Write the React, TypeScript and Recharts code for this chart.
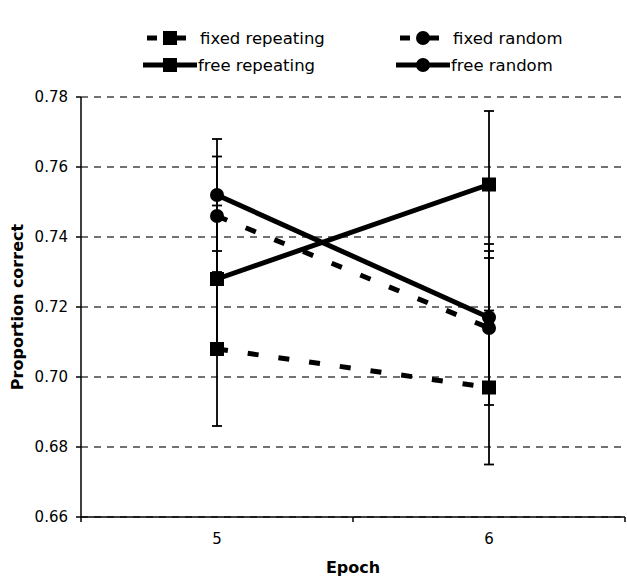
import {
  CartesianGrid,
  ErrorBar,
  Label,
  Line,
  LineChart,
  XAxis,
  YAxis,
} from "recharts";

const epochs = [5, 6];
const fixedRepeating = [0.708, 0.697];
const fixedRepeatingErr = [0.022, 0.022];
const freeRepeating = [0.728, 0.755];
const freeRepeatingErr = [0.021, 0.021];
const fixedRandom = [0.746, 0.714];
const fixedRandomErr = [0.017, 0.022];
const freeRandom = [0.752, 0.717];
const freeRandomErr = [0.016, 0.021];

const yTicks = [0.66, 0.68, 0.7, 0.72, 0.74, 0.76, 0.78];
const xTicks = [4.5, 5, 5.5, 6, 6.5];

const data = epochs.map((epoch, i) => ({
  epoch,
  fixedRepeating: fixedRepeating[i],
  fixedRepeatingErr: fixedRepeatingErr[i],
  freeRepeating: freeRepeating[i],
  freeRepeatingErr: freeRepeatingErr[i],
  fixedRandom: fixedRandom[i],
  fixedRandomErr: fixedRandomErr[i],
  freeRandom: freeRandom[i],
  freeRandomErr: freeRandomErr[i],
}));

const FONT = "'DejaVu Sans', Verdana, sans-serif";
const DASH = "11 20";

const SquareDot = (props: any) => {
  const { cx, cy } = props;
  if (cx == null || cy == null) return null;
  return <rect x={cx - 7} y={cy - 7} width={14} height={14} fill="#000" />;
};

const CircleDot = (props: any) => {
  const { cx, cy } = props;
  if (cx == null || cy == null) return null;
  return <circle cx={cx} cy={cy} r={7} fill="#000" />;
};

// integer ticks get a label, half ticks get the category boundary mark
const XTick = (props: any) => {
  const { x, y, payload } = props;
  const v = payload.value;
  if (Number.isInteger(v)) {
    return (
      <text x={x} y={y + 27} textAnchor="middle" fontSize={15} fontFamily={FONT} fill="#000">
        {v}
      </text>
    );
  }
  return <line x1={x} y1={y} x2={x} y2={y + 5} stroke="#000" strokeWidth={1.5} />;
};

const legendItems = [
  { name: "fixed repeating", dashed: true, shape: "square", x: 143, y: 38 },
  { name: "free repeating", dashed: false, shape: "square", x: 143, y: 65 },
  { name: "fixed random", dashed: true, shape: "circle", x: 396, y: 38 },
  { name: "free random", dashed: false, shape: "circle", x: 396, y: 65 },
];

// legend drawn as an overlay so it doesn't eat into the plot area
const ChartLegend = () => (
  <svg
    width={627}
    height={90}
    style={{ position: "absolute", left: 0, top: 0, display: "block" }}
  >
    {legendItems.map((it) => {
      const mid = it.x + 27;
      return (
        <g key={it.name}>
          {it.dashed ? (
            <>
              <line x1={it.x + 4} y1={it.y} x2={it.x + 14} y2={it.y} stroke="#000" strokeWidth={5} />
              <line x1={mid} y1={it.y} x2={mid + 16} y2={it.y} stroke="#000" strokeWidth={5} />
            </>
          ) : (
            <line x1={it.x} y1={it.y} x2={it.x + 54} y2={it.y} stroke="#000" strokeWidth={5} />
          )}
          {it.shape === "square" ? (
            <rect x={mid - 7} y={it.y - 7} width={14} height={14} fill="#000" />
          ) : (
            <circle cx={mid} cy={it.y} r={7} fill="#000" />
          )}
          <text
            x={it.dashed ? it.x + 57 : it.x + 55}
            y={it.y}
            dominantBaseline="central"
            fontSize={16.5}
            fontFamily={FONT}
            fill="#000"
          >
            {it.name}
          </text>
        </g>
      );
    })}
  </svg>
);

export default function App() {
  return (
    <div style={{ position: "absolute", left: 0, top: 0, width: 627, height: 578, background: "#fff" }}>
      <LineChart
        width={627}
        height={578}
        data={data}
        margin={{ top: 97, right: 2, left: 0, bottom: 0 }}
      >
        <CartesianGrid
          horizontal
          vertical={false}
          stroke="#444"
          strokeWidth={1.3}
          strokeDasharray="7 6"
        />
        <XAxis
          dataKey="epoch"
          type="number"
          domain={[4.5, 6.5]}
          ticks={xTicks}
          interval={0}
          tick={<XTick />}
          tickLine={false}
          tickSize={0}
          tickMargin={0}
          height={61}
          axisLine={{ stroke: "#000", strokeWidth: 1.5 }}
        >
          <Label
            content={(p: any) => {
              const vb = p.viewBox;
              return (
                <text
                  x={vb.x + vb.width / 2}
                  y={vb.y + 56}
                  textAnchor="middle"
                  fontSize={16}
                  fontWeight="bold"
                  fontFamily={FONT}
                  fill="#000"
                >
                  Epoch
                </text>
              );
            }}
          />
        </XAxis>
        <YAxis
          type="number"
          domain={[0.66, 0.78]}
          ticks={yTicks}
          interval={0}
          allowDataOverflow
          width={81}
          tickSize={5}
          tickMargin={8}
          tickLine={{ stroke: "#000", strokeWidth: 1.5 }}
          axisLine={{ stroke: "#000", strokeWidth: 1.5 }}
          tick={{ fontSize: 15, fontFamily: FONT, fill: "#000" }}
          tickFormatter={(v: number) => v.toFixed(2)}
        >
          <Label
            content={(p: any) => {
              const vb = p.viewBox;
              const x = vb.x + 17;
              const y = vb.y + vb.height / 2;
              return (
                <text
                  x={x}
                  y={y}
                  transform={`rotate(-90, ${x}, ${y})`}
                  textAnchor="middle"
                  dominantBaseline="central"
                  fontSize={16}
                  fontWeight="bold"
                  fontFamily={FONT}
                  fill="#000"
                >
                  Proportion correct
                </text>
              );
            }}
          />
        </YAxis>
        <Line
          dataKey="fixedRepeating"
          type="linear"
          stroke="#000"
          strokeWidth={5}
          strokeDasharray={DASH}
          dot={<SquareDot />}
          activeDot={false}
          isAnimationActive={false}
        >
          <ErrorBar dataKey="fixedRepeatingErr" direction="y" width={5} stroke="#000" strokeWidth={1.8} />
        </Line>
        <Line
          dataKey="freeRepeating"
          type="linear"
          stroke="#000"
          strokeWidth={5}
          dot={<SquareDot />}
          activeDot={false}
          isAnimationActive={false}
        >
          <ErrorBar dataKey="freeRepeatingErr" direction="y" width={5} stroke="#000" strokeWidth={1.8} />
        </Line>
        <Line
          dataKey="fixedRandom"
          type="linear"
          stroke="#000"
          strokeWidth={5}
          strokeDasharray={DASH}
          dot={<CircleDot />}
          activeDot={false}
          isAnimationActive={false}
        >
          <ErrorBar dataKey="fixedRandomErr" direction="y" width={5} stroke="#000" strokeWidth={1.8} />
        </Line>
        <Line
          dataKey="freeRandom"
          type="linear"
          stroke="#000"
          strokeWidth={5}
          dot={<CircleDot />}
          activeDot={false}
          isAnimationActive={false}
        >
          <ErrorBar dataKey="freeRandomErr" direction="y" width={5} stroke="#000" strokeWidth={1.8} />
        </Line>
      </LineChart>
      <ChartLegend />
    </div>
  );
}
